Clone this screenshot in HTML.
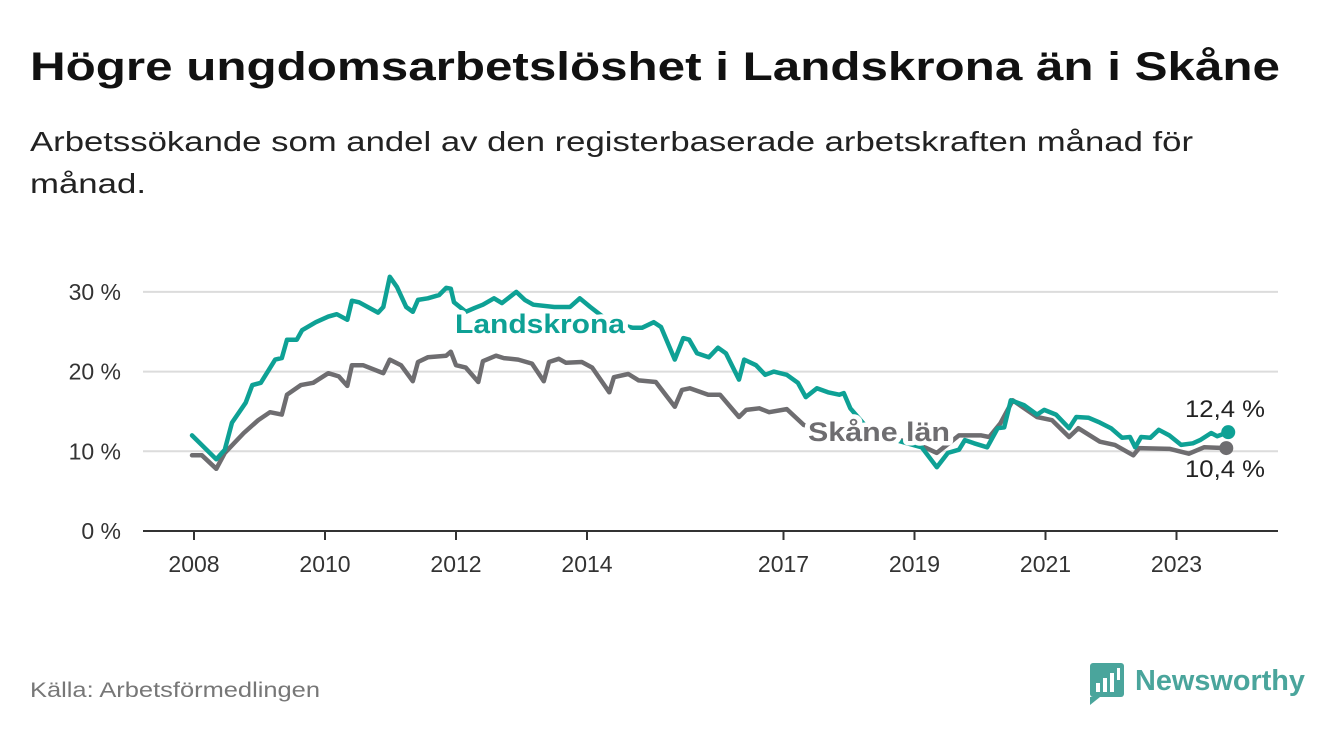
<!DOCTYPE html>
<html><head><meta charset="utf-8"><style>
html,body{margin:0;padding:0;background:#fff;}
svg{display:block;font-family:"Liberation Sans","DejaVu Sans",sans-serif;}
</style></head><body>
<svg id="chart" width="1340" height="734" viewBox="0 0 1340 734" xmlns="http://www.w3.org/2000/svg">
<text x="30" y="80" font-size="40" font-weight="bold" fill="#111" textLength="1250" lengthAdjust="spacingAndGlyphs">Högre ungdomsarbetslöshet i Landskrona än i Skåne</text>
<text x="30" y="151" font-size="28" fill="#222" textLength="1163" lengthAdjust="spacingAndGlyphs">Arbetssökande som andel av den registerbaserade arbetskraften månad för</text>
<text x="30" y="193" font-size="28" fill="#222" textLength="116" lengthAdjust="spacingAndGlyphs">månad.</text>
<g id="grid"></g>
<g id="xaxis"></g>
<g id="series"></g>
<g id="labels"></g>
<text x="30" y="697" font-size="21" fill="#777" textLength="290" lengthAdjust="spacingAndGlyphs">Källa: Arbetsförmedlingen</text>
<g>
<rect x="1090" y="663" width="34" height="34" rx="3" fill="#4aa59c"/>
<path d="M1090 697 l0 8 l10 -8z" fill="#4aa59c"/>
<rect x="1096" y="683" width="4" height="9" fill="#fff"/><rect x="1103" y="678" width="4" height="14" fill="#fff"/><rect x="1110" y="673" width="4" height="19" fill="#fff"/><rect x="1117" y="668" width="3" height="12" fill="#fff"/>
<text x="1135" y="690" font-size="29" font-weight="bold" fill="#4aa59c" textLength="170" lengthAdjust="spacingAndGlyphs">Newsworthy</text>
</g>
</svg>
<script>
const yTicks=[0,10,20,30];
const yTickLabels=["0 %","10 %","20 %","30 %"];
const xTicks=[2008,2010,2012,2014,2017,2019,2021,2023];
const landDates=[2007.97,2008.34,2008.47,2008.58,2008.79,2008.89,2009.02,2009.24,2009.34,2009.42,2009.57,2009.65,2009.86,2010.05,2010.18,2010.34,2010.41,2010.52,2010.81,2010.89,2010.99,2011.10,2011.24,2011.34,2011.42,2011.57,2011.74,2011.85,2011.92,2011.97,2012.15,2012.29,2012.41,2012.58,2012.70,2012.92,2013.05,2013.18,2013.50,2013.74,2013.89,2014.05,2014.27,2014.50,2014.70,2014.84,2015.02,2015.13,2015.34,2015.47,2015.56,2015.68,2015.86,2016.00,2016.12,2016.32,2016.40,2016.58,2016.72,2016.85,2017.05,2017.22,2017.34,2017.51,2017.68,2017.85,2017.92,2018.02,2018.24,2018.55,2018.89,2019.11,2019.34,2019.51,2019.68,2019.77,2019.91,2020.11,2020.27,2020.37,2020.47,2020.67,2020.87,2020.98,2021.16,2021.36,2021.47,2021.66,2021.83,2022.00,2022.17,2022.29,2022.37,2022.46,2022.60,2022.73,2022.89,2023.07,2023.25,2023.36,2023.53,2023.62,2023.79];
const landValues=[12.0,9.0,10.2,13.6,16.1,18.3,18.6,21.5,21.7,24.0,24.0,25.2,26.2,26.9,27.2,26.5,28.9,28.7,27.4,28.1,31.9,30.6,28.1,27.5,29.0,29.2,29.6,30.5,30.4,28.7,27.5,28.0,28.4,29.2,28.6,30.0,29.0,28.4,28.1,28.1,29.2,28.1,26.7,25.9,25.5,25.5,26.2,25.6,21.5,24.2,24.0,22.3,21.8,23.0,22.3,19.0,21.5,20.8,19.6,20.0,19.6,18.6,16.8,17.9,17.4,17.1,17.3,15.4,13.3,11.8,11.0,10.5,8.0,9.8,10.2,11.4,11.0,10.5,12.9,13.0,16.4,15.8,14.6,15.2,14.6,12.9,14.3,14.2,13.6,12.9,11.7,11.8,10.5,11.8,11.7,12.7,12.0,10.8,11.0,11.4,12.3,11.9,12.4];
const skaneDates=[2007.97,2008.12,2008.34,2008.47,2008.76,2008.98,2009.16,2009.34,2009.42,2009.63,2009.82,2010.05,2010.21,2010.34,2010.41,2010.58,2010.89,2010.99,2011.16,2011.34,2011.42,2011.57,2011.85,2011.92,2012.00,2012.15,2012.34,2012.41,2012.61,2012.73,2012.95,2013.16,2013.34,2013.42,2013.57,2013.68,2013.92,2014.08,2014.34,2014.41,2014.63,2014.79,2015.05,2015.34,2015.45,2015.57,2015.85,2016.03,2016.32,2016.43,2016.63,2016.78,2017.05,2017.31,2017.71,2018.32,2018.78,2019.08,2019.34,2019.68,2020.02,2020.14,2020.31,2020.50,2020.64,2020.87,2021.10,2021.36,2021.50,2021.83,2022.06,2022.34,2022.43,2022.90,2023.19,2023.42,2023.76];
const skaneValues=[9.5,9.5,7.8,9.8,12.3,13.9,14.9,14.6,17.1,18.3,18.6,19.8,19.4,18.2,20.8,20.8,19.8,21.5,20.8,18.8,21.2,21.8,22.0,22.5,20.8,20.5,18.7,21.3,22.0,21.7,21.5,21.0,18.8,21.2,21.6,21.1,21.2,20.5,17.4,19.3,19.7,18.9,18.7,15.6,17.7,17.9,17.1,17.1,14.3,15.2,15.4,14.9,15.3,13.3,12.4,11.8,11.4,10.8,9.8,12.0,12.0,11.8,13.5,16.4,15.6,14.3,13.9,11.8,12.9,11.2,10.8,9.5,10.4,10.3,9.7,10.5,10.4];
const endLabels=["12,4 %","10,4 %"];

const NS="http://www.w3.org/2000/svg";
const X0=143,X1=1278;
function xs(t){return 194+65.5*(t-2008);}
function ys(v){return 531-7.97*v;}
function mk(tag,attrs,parent){const e=document.createElementNS(NS,tag);for(const k in attrs)e.setAttribute(k,attrs[k]);parent.appendChild(e);return e;}
const grid=document.getElementById('grid'),xa=document.getElementById('xaxis'),ser=document.getElementById('series'),lab=document.getElementById('labels');
yTicks.forEach((v,i)=>{
  if(v>0){const l=mk('line',{x1:X0,x2:X1,y1:ys(v),y2:ys(v),stroke:'#dcdcdc','stroke-width':2},grid);
  
  }
  const t=mk('text',{x:121,y:ys(v)+8,'font-size':23,fill:'#333','text-anchor':'end'},grid);
  
  
  t.textContent=yTickLabels[i];
});
const base=mk('line',{x1:X0,x2:X1,y1:531,y2:531,stroke:'#333','stroke-width':2},xa);


xTicks.forEach(y=>{
  const tk=mk('line',{x1:xs(y),x2:xs(y),y1:531,y2:540,stroke:'#333','stroke-width':2},xa);
  
  
  const t=mk('text',{x:xs(y),y:572,'font-size':23,fill:'#333','text-anchor':'middle'},xa);
  
  
  t.textContent=y;
});
function line(d,v,color,name){
  const pts=d.map((t,i)=>xs(t).toFixed(1)+','+ys(v[i]).toFixed(1)).join(' ');
  const p=mk('polyline',{points:pts,fill:'none',stroke:color,'stroke-width':4.5,'stroke-linejoin':'round','stroke-linecap':'round'},ser);
  
  
  const c=mk('circle',{cx:xs(d[d.length-1]),cy:ys(v[v.length-1]),r:7,fill:color},ser);
  
  
}
line(skaneDates,skaneValues,'#6e6d70','skane-line');
line(landDates,landValues,'#0ea195','landskrona-line');
function txt(x,y,s,fill,name,bold,w){
  const t=mk('text',{x:x,y:y,'font-size':bold?27:24,fill:fill,'font-weight':bold?'bold':'normal',stroke:'#fff','stroke-width':bold?9:0,'paint-order':'stroke','stroke-linejoin':'round',textLength:w,lengthAdjust:'spacingAndGlyphs'},lab);
  
  
  t.textContent=s;return t;
}
txt(455,333,'Landskrona','#0ea195','landskrona-label',true,170);
txt(808,441,'Skåne län','#6e6d70','skane-label',true,142);
txt(1185,417,endLabels[0],'#222','landskrona-end-value',false,80);
txt(1185,477,endLabels[1],'#222','skane-end-value',false,80);
</script>
</body></html>
